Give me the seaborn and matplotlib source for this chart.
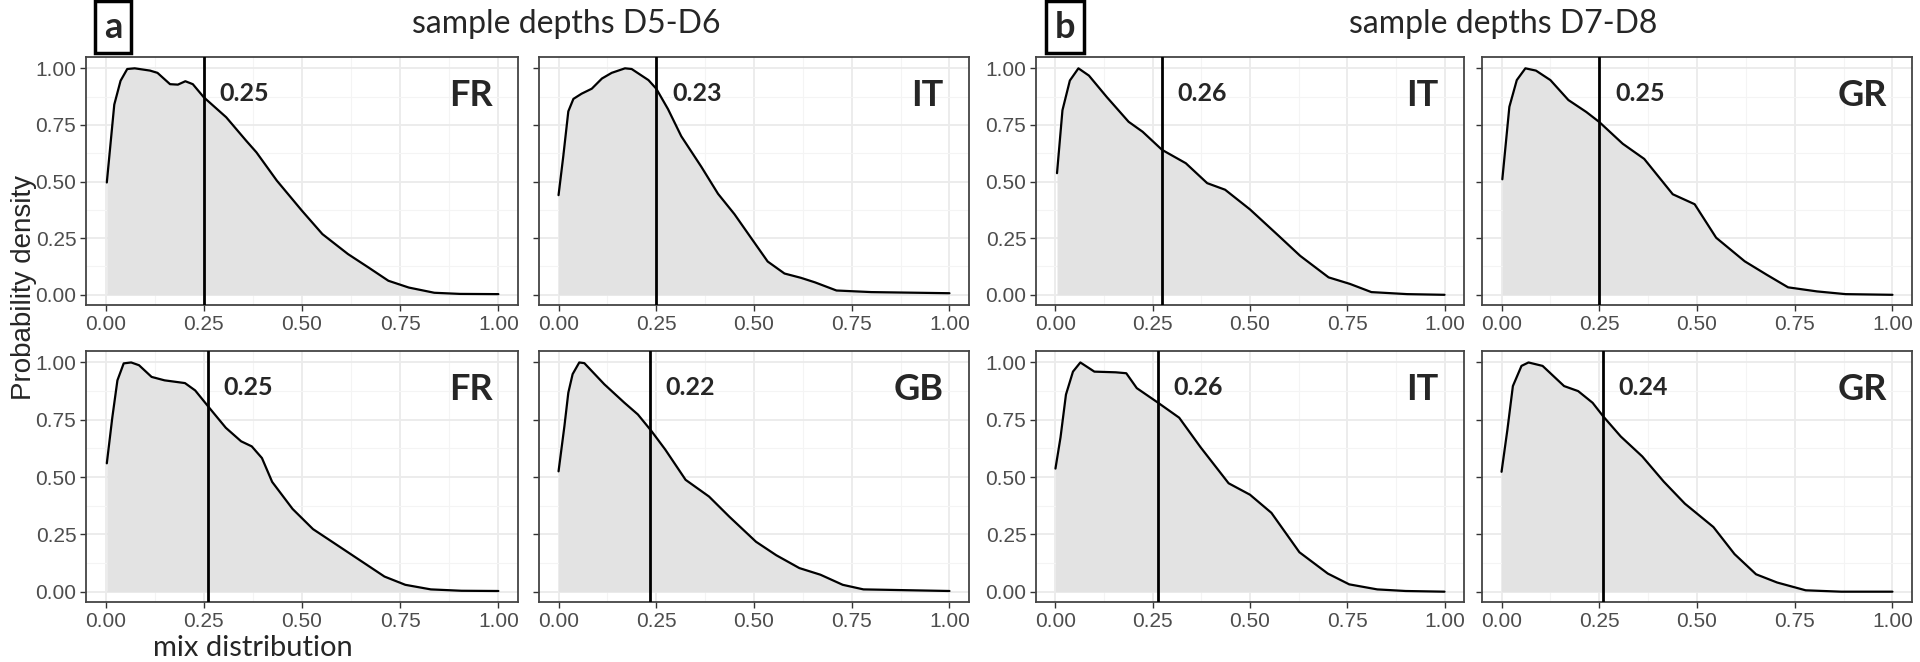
import matplotlib.pyplot as plt
import numpy as np
import seaborn as sns

# scaled densities (density / max), x = mix distribution
fr_a_top_x = [0.003, 0.022, 0.038, 0.055, 0.074, 0.113, 0.132, 0.164, 0.184, 0.203, 0.222, 0.25,
              0.307, 0.358, 0.384, 0.436, 0.50, 0.552, 0.617, 0.669, 0.72, 0.772, 0.837, 0.902, 1.0]
fr_a_top_y = [0.496, 0.84, 0.945, 0.997, 1.0, 0.99, 0.98, 0.93, 0.928, 0.943, 0.93, 0.872,
              0.784, 0.68, 0.629, 0.504, 0.371, 0.268, 0.18, 0.121, 0.062, 0.032, 0.009, 0.004, 0.003]

it_a_top_x = [0.0, 0.012, 0.025, 0.038, 0.059, 0.085, 0.111, 0.136, 0.17, 0.187, 0.23, 0.25, 0.28,
              0.314, 0.365, 0.408, 0.45, 0.493, 0.535, 0.578, 0.62, 0.656, 0.711, 0.80, 1.0]
it_a_top_y = [0.44, 0.61, 0.81, 0.865, 0.888, 0.91, 0.955, 0.98, 1.0, 0.997, 0.948, 0.91, 0.82,
              0.70, 0.566, 0.446, 0.356, 0.25, 0.147, 0.094, 0.075, 0.055, 0.019, 0.012, 0.007]

fr_a_bot_x = [0.003, 0.017, 0.03, 0.046, 0.065, 0.085, 0.117, 0.15, 0.202, 0.228, 0.265, 0.306, 0.345,
              0.372, 0.398, 0.424, 0.476, 0.528, 0.58, 0.645, 0.71, 0.763, 0.828, 0.906, 1.0]
fr_a_bot_y = [0.56, 0.76, 0.922, 0.996, 1.0, 0.988, 0.937, 0.922, 0.91, 0.878, 0.80, 0.715, 0.656,
              0.634, 0.583, 0.479, 0.361, 0.273, 0.214, 0.14, 0.066, 0.03, 0.01, 0.004, 0.003]

gb_a_bot_x = [0.0, 0.015, 0.025, 0.036, 0.053, 0.066, 0.117, 0.168, 0.203, 0.238, 0.273, 0.325,
              0.385, 0.437, 0.505, 0.557, 0.616, 0.67, 0.727, 0.78, 1.0]
gb_a_bot_y = [0.525, 0.722, 0.868, 0.949, 1.0, 0.997, 0.905, 0.825, 0.773, 0.70, 0.62, 0.488,
              0.415, 0.327, 0.218, 0.159, 0.103, 0.074, 0.03, 0.01, 0.003]

it_b_top_x = [0.004, 0.018, 0.037, 0.059, 0.086, 0.132, 0.188, 0.224, 0.274, 0.335, 0.39, 0.436,
              0.50, 0.574, 0.629, 0.702, 0.757, 0.812, 0.904, 1.0]
it_b_top_y = [0.537, 0.815, 0.946, 1.0, 0.968, 0.873, 0.764, 0.72, 0.64, 0.581, 0.493, 0.464,
              0.377, 0.26, 0.172, 0.077, 0.048, 0.012, 0.003, 0.0]

gr_b_top_x = [0.002, 0.02, 0.039, 0.061, 0.088, 0.125, 0.171, 0.217, 0.25, 0.31, 0.365, 0.438,
              0.494, 0.549, 0.622, 0.678, 0.733, 0.807, 0.88, 1.0]
gr_b_top_y = [0.51, 0.83, 0.948, 1.0, 0.99, 0.948, 0.86, 0.807, 0.763, 0.667, 0.60, 0.444,
              0.40, 0.252, 0.148, 0.089, 0.033, 0.015, 0.003, 0.0]

it_b_bot_x = [0.0, 0.013, 0.027, 0.045, 0.064, 0.10, 0.155, 0.182, 0.209, 0.264, 0.318, 0.373,
              0.445, 0.50, 0.555, 0.627, 0.70, 0.755, 0.827, 0.90, 1.0]
it_b_bot_y = [0.537, 0.673, 0.86, 0.96, 1.0, 0.96, 0.957, 0.953, 0.888, 0.824, 0.759, 0.63,
              0.473, 0.423, 0.344, 0.172, 0.079, 0.032, 0.01, 0.003, 0.0]

gr_b_bot_x = [0.0, 0.015, 0.029, 0.051, 0.069, 0.105, 0.16, 0.196, 0.233, 0.26, 0.305, 0.36,
              0.415, 0.469, 0.542, 0.596, 0.651, 0.705, 0.778, 0.869, 1.0]
gr_b_bot_y = [0.523, 0.707, 0.897, 0.985, 1.0, 0.985, 0.897, 0.875, 0.824, 0.765, 0.677, 0.59,
              0.48, 0.384, 0.282, 0.164, 0.076, 0.04, 0.006, 0.0, 0.0]

curves_x = [fr_a_top_x, it_a_top_x, fr_a_bot_x, gb_a_bot_x, it_b_top_x, gr_b_top_x, it_b_bot_x, gr_b_bot_x]
curves_y = [fr_a_top_y, it_a_top_y, fr_a_bot_y, gb_a_bot_y, it_b_top_y, gr_b_top_y, it_b_bot_y, gr_b_bot_y]
countries = ["FR", "IT", "FR", "GB", "IT", "GR", "IT", "GR"]
vlines = [0.25, 0.25, 0.26, 0.233, 0.273, 0.25, 0.264, 0.26]
vline_labels = ["0.25", "0.23", "0.25", "0.22", "0.26", "0.25", "0.26", "0.24"]
ticks = [0.0, 0.25, 0.5, 0.75, 1.0]
tick_labels = ["0.00", "0.25", "0.50", "0.75", "1.00"]
group_titles = ["sample depths D5-D6", "sample depths D7-D8"]
group_letters = ["a", "b"]

sns.set_theme(style="white")
plt.rcParams['font.family'] = ['Lato', 'DejaVu Sans']

W, H = 1920, 662
fig = plt.figure(figsize=(W / 100, H / 100), dpi=100)

# pixel boxes (left, top, right, bottom) of each panel
cols = [(86, 518), (539, 969), (1036, 1464), (1482, 1912)]
rows = [(57, 305), (351, 602)]
# panel order: a top-left, a top-right, a bottom-left, a bottom-right, then b
slots = [(0, 0), (1, 0), (0, 1), (1, 1), (2, 0), (3, 0), (2, 1), (3, 1)]

tick_font = dict(family=['Liberation Sans Narrow', 'Liberation Sans', 'DejaVu Sans'], size=15, color='#4D4D4D')

for i in range(8):
  c, r = slots[i]
  l, rr = cols[c]
  t, b = rows[r]
  ax = fig.add_axes([l / W, 1 - b / H, (rr - l) / W, (b - t) / H])
  xs = np.array(curves_x[i])
  ys = np.array(curves_y[i])
  ax.fill_between(xs, ys, 0, color='#E3E3E3', lw=0, zorder=1)
  sns.lineplot(x=xs, y=ys, ax=ax, color='black', lw=1.6, estimator=None, sort=False, zorder=3)
  ax.axvline(vlines[i], color='black', lw=2.0, zorder=4)
  ax.text(vlines[i] + 0.04, 0.89, vline_labels[i], fontsize=18, fontweight='bold', va='center', ha='left')
  ax.text(0.985, 0.88, countries[i], fontsize=26, fontweight='bold', va='center', ha='right')

  ax.set_xlim(-0.05, 1.05)
  ax.set_ylim(-0.045, 1.05)
  ax.set_xticks(ticks)
  ax.set_yticks(ticks)
  ax.set_xticks([0.125, 0.375, 0.625, 0.875], minor=True)
  ax.set_yticks([0.125, 0.375, 0.625, 0.875], minor=True)
  ax.grid(True, which='major', color='#EBEBEB', lw=1.3, zorder=0)
  ax.grid(True, which='minor', color='#F4F4F4', lw=0.8, zorder=0)
  ax.set_axisbelow(True)
  ax.set_xticklabels(tick_labels, fontdict=tick_font)
  if c in (0, 2):
    ax.set_yticklabels(tick_labels, fontdict=tick_font)
  else:
    ax.set_yticklabels([])
  ax.tick_params(which='major', length=4, width=1, color='#333333', pad=3, bottom=True, left=True)
  ax.tick_params(which='minor', length=0)
  for sp in ax.spines.values():
    sp.set_color('#444444')
    sp.set_linewidth(1.3)
  ax.set_xlabel('')
  ax.set_ylabel('')

# group titles and boxed letters
fig.text(566 / W, 1 - 24 / H, group_titles[0], fontsize=23, ha='center', va='center')
fig.text(1503 / W, 1 - 24 / H, group_titles[1], fontsize=23, ha='center', va='center')
for x_px, letter in zip([113, 1065], group_letters):
  fig.text(x_px / W, 1 - 27 / H, letter, fontsize=26, fontweight='bold', ha='center', va='center',
           bbox=dict(boxstyle='square,pad=0.25', fc='white', ec='black', lw=2.5))

fig.text(24 / W, 1 - 288 / H, 'Probability density', fontsize=20, rotation=90, ha='center', va='center',
         family=['Liberation Sans', 'DejaVu Sans'])
fig.text(253 / W, 1 - 648 / H, 'mix distribution', fontsize=21, ha='center', va='center')

fig.savefig('out.png', dpi=100)
